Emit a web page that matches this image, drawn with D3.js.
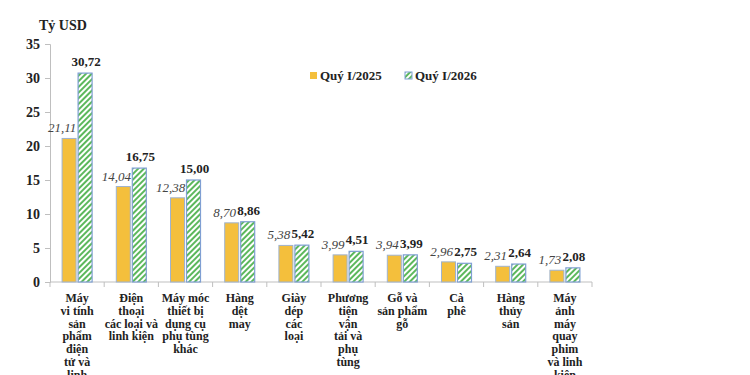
<!DOCTYPE html>
<html><head><meta charset="utf-8">
<script src="https://cdn.jsdelivr.net/npm/d3@7"></script>
<style>body{margin:0;background:#fff}svg{display:block}svg text{font-family:"Liberation Serif","DejaVu Serif",serif}</style>
</head><body>
<svg id="c" width="750" height="375"></svg>
<script>
const categories = [
  ["Máy","vi tính","sản","phẩm","điện","tử và","linh","kiện"],
  ["Điện","thoại","các loại và","linh kiện"],
  ["Máy móc","thiết bị","dụng cụ","phụ tùng","khác"],
  ["Hàng","dệt","may"],
  ["Giày","dép","các","loại"],
  ["Phương","tiện","vận","tải và","phụ","tùng"],
  ["Gỗ và","sản phẩm","gỗ"],
  ["Cà","phê"],
  ["Hàng","thủy","sản"],
  ["Máy","ảnh","máy","quay","phim","và linh","kiện"]
];
const q2025 = [21.11,14.04,12.38,8.70,5.38,3.99,3.94,2.96,2.31,1.73];
const q2026 = [30.72,16.75,15.00,8.86,5.42,4.51,3.99,2.75,2.64,2.08];
const seriesNames = ["Quý I/2025","Quý I/2026"];
const yTicks = [0,5,10,15,20,25,30,35];
const unitLabel = "Tỷ USD";

const svg = d3.select("#c");
const m = {l:50, r:158, t:44, b:93};
const W = 750, H = 375;
const x = d3.scaleBand().domain(d3.range(categories.length)).range([m.l, W-m.r]);
const y = d3.scaleLinear().domain([0,35]).range([H-m.b, m.t]);

const defs = svg.append("defs");
const pat = defs.append("pattern").attr("id","hatch").attr("patternUnits","userSpaceOnUse")
  .attr("width",4).attr("height",4).attr("patternTransform","rotate(45)");
pat.append("rect").attr("width",4).attr("height",4).attr("fill","#ffffff");
pat.append("rect").attr("width",2).attr("height",4).attr("fill","#5cb85c");

const fmt = v => v.toFixed(2).replace(".",",");

// y axis
const ya = svg.append("g").attr("transform",`translate(${m.l},0)`)
  .call(d3.axisLeft(y).tickValues(yTicks).tickSize(5).tickPadding(5).tickFormat(d=>d));
ya.attr("font-family",null).attr("font-size",null);
ya.select(".domain").attr("stroke","#bfbfbf");
ya.selectAll(".tick line").attr("stroke","#bfbfbf");
ya.selectAll("text").style("font-weight","bold").style("font-size","14px").attr("fill","#222");

// x axis
const xa = svg.append("g").attr("transform",`translate(0,${y(0)})`);
xa.append("line").attr("x1",m.l).attr("x2",W-m.r).attr("stroke","#bfbfbf");
const edges = d3.range(categories.length+1).map(i => i < categories.length ? x(i) : x(categories.length-1)+x.bandwidth());
xa.selectAll("line.t").data(edges).join("line").attr("class","t")
  .attr("x1",d=>d).attr("x2",d=>d).attr("y1",0).attr("y2",5).attr("stroke","#bfbfbf");

const bw = 14, gap = 2;
const g = svg.append("g");
categories.forEach((c,i) => {
  const cx = x(i) + x.bandwidth()/2;
  const x1 = cx - gap/2 - bw, x2 = cx + gap/2;
  g.append("rect").attr("x",x1).attr("y",y(q2025[i])).attr("width",bw).attr("height",y(0)-y(q2025[i]))
    .attr("fill","#f4bf3c").attr("stroke","#9fb3cf").attr("stroke-width",1);
  g.append("rect").attr("x",x2).attr("y",y(q2026[i])).attr("width",bw).attr("height",y(0)-y(q2026[i]))
    .attr("fill","url(#hatch)").attr("stroke","#7f9fd3").attr("stroke-width",1.2);
  g.append("text").attr("x",x1).attr("y",y(q2025[i])-6).attr("text-anchor","middle")
    .style("font-style","italic").style("font-size","13px").attr("fill","#444")
    .text(fmt(q2025[i]));
  g.append("text").attr("x",x2+bw/2+1).attr("y",y(q2026[i])-7).attr("text-anchor","middle")
    .style("font-weight","bold").style("font-size","13px").attr("fill","#222")
    .text(fmt(q2026[i]));
  const t = g.append("text").style("font-weight","bold").style("font-size","12px")
    .attr("fill","#222").attr("text-anchor","middle");
  c.forEach((ln,j) => t.append("tspan").attr("x",cx).attr("y",y(0)+20+j*12.8).text(ln));
});

// unit label
svg.append("text").attr("x",39).attr("y",30).style("font-weight","bold")
  .style("font-size","14px").attr("fill","#222").text(unitLabel);

// legend
const leg = svg.append("g");
const lx = [310, 405];
seriesNames.forEach((s,i) => {
  leg.append("rect").attr("x",lx[i]).attr("y",72).attr("width",7).attr("height",7)
    .attr("fill", i===0 ? "#f4bf3c" : "url(#hatch)").attr("stroke", i===0 ? "none" : "#7f9fd3");
  leg.append("text").attr("x",lx[i]+10).attr("y",80).style("font-weight","bold")
    .style("font-size","13px").attr("fill","#222").text(s);
});
</script>
</body></html>
